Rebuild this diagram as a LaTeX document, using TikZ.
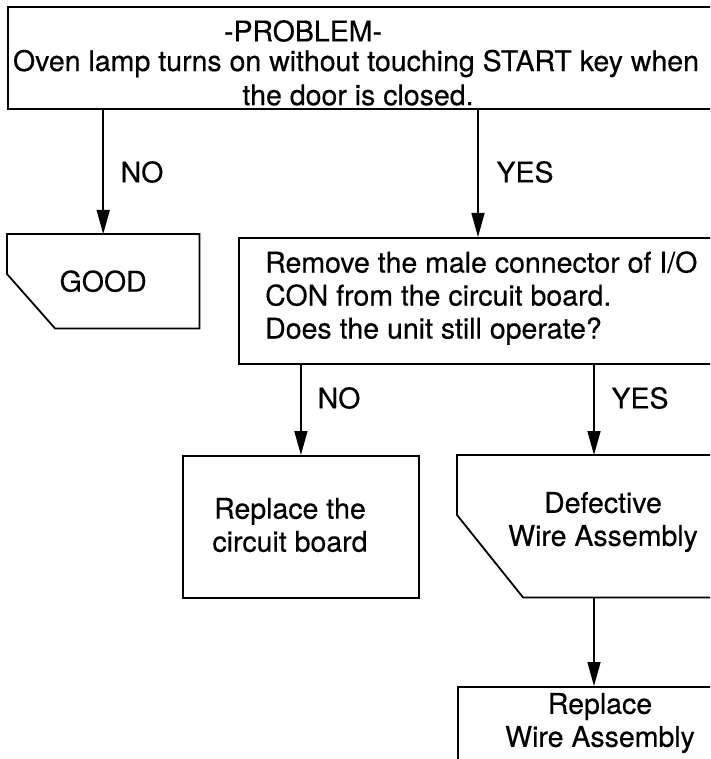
\documentclass[tikz,border=0pt]{standalone}
\usepackage{fontspec}
\setmainfont{TeX Gyre Heros}
\usetikzlibrary{arrows.meta,calc}
\begin{document}
\begin{tikzpicture}[x=1pt,y=-1pt,
  txt/.style={inner sep=0pt, font=\fontsize{28.5}{33}\selectfont\addfontfeatures{FakeBold=0.4}},
  box/.style={draw, line width=1.8pt, rectangle, inner sep=0pt, anchor=north west},
  shapebox/.style={rectangle, inner sep=0pt, anchor=north west, font=\fontsize{28.5}{33}\selectfont\addfontfeatures{FakeBold=0.4}},
  outline/.style={draw, line width=1.8pt, line join=miter},
  arr/.style={line width=1.5pt, -{Triangle[length=24pt,width=13pt]}}]
\useasboundingbox (0,0) rectangle (710,759);
\fill[white] (0,0) rectangle (710,759);
\clip (0,0) rectangle (710,759);

% boxes
\node[box, minimum width=760pt, minimum height=102pt] (top) at (7,6) {};
\node[shapebox, minimum width=192pt, minimum height=94pt] (good) at (7,234) {GOOD};
\node[box, minimum width=530pt, minimum height=126pt] (mid) at (238,237) {};
\node[box, minimum width=236pt, minimum height=142pt] (cb) at (182,455) {};
\node[shapebox, minimum width=310pt, minimum height=142pt] (def) at (457,455) {};
\node[box, minimum width=310pt, minimum height=120pt] (rw) at (457,686) {};

% chamfered outlines
\draw[outline] (good.north west) -- (good.north east) -- (good.south east)
  -- ([xshift=48pt]good.south west) -- ([yshift=-40pt]good.north west) -- cycle;
\draw[outline] (def.north west) -- (def.north east) -- (def.south east)
  -- ([xshift=66pt]def.south west) -- ([yshift=-60pt]def.north west) -- cycle;

% texts
\node[txt] (t1) at (303,31) {-PROBLEM-};
\node[txt] (t2) at (356,63.5) {Oven lamp turns on without touching START key when};
\node[txt] (t3) at (358,95) {the door is closed.};
\node[txt, anchor=west, align=left] (mtext) at (265,298) {Remove the male connector of I/O\\CON from the circuit board.\\Does the unit still operate?};
\node[txt, align=center] (cbtext) at (290,525) {Replace the\\circuit board};
\node[txt, align=center] (deftext) at (603,522) {Defective\\Wire Assembly};
\node[txt, align=center] (rwtext) at (600,723) {Replace\\Wire Assembly};

% labels
\node[txt] (no1) at (142,172) {NO};
\node[txt] (yes1) at (525,172) {YES};
\node[txt] (no2) at (339,398) {NO};
\node[txt] (yes2) at (640,398) {YES};

% connectors
\coordinate (c1) at (478,0);
\coordinate (c2) at (594,0);
\draw[arr] (top.south -| good.north) -- (good.north);
\draw[arr] (top.south -| c1) -- (mid.north -| c1);
\draw[arr] (mid.south -| cb.north) -- (cb.north);
\draw[arr] (mid.south -| c2) -- (def.north -| c2);
\draw[arr] (def.south -| c2) -- (rw.north -| c2);
\end{tikzpicture}
\end{document}
